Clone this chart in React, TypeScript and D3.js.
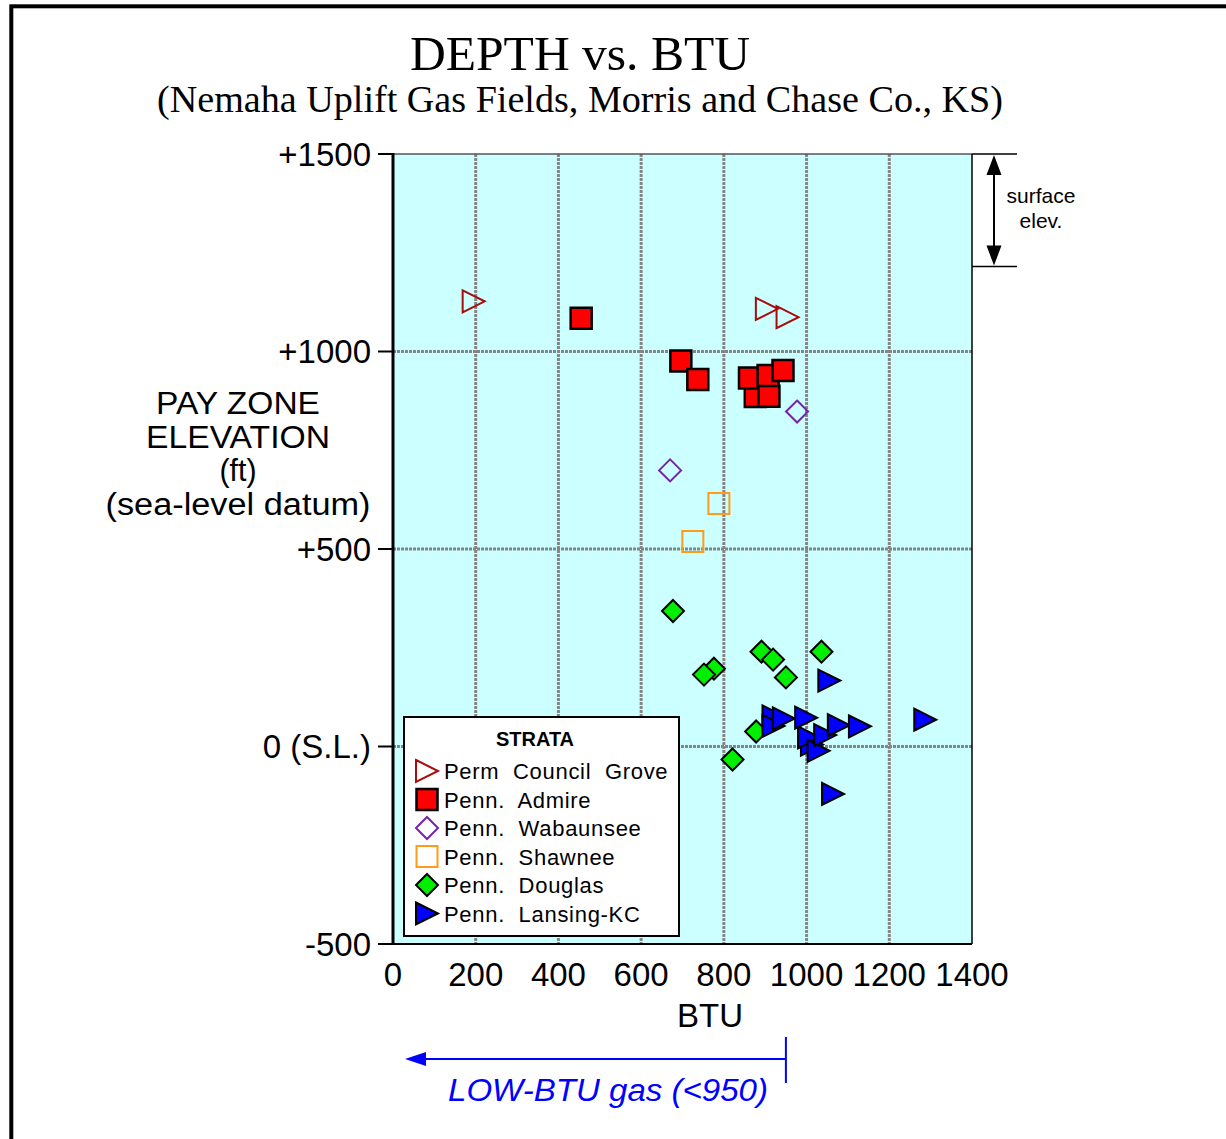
import React from "react";
import * as d3 from "d3";

// ---------- data ----------
const xTicks = [0, 200, 400, 600, 800, 1000, 1200, 1400];
const yTickValues = [1500, 1000, 500, 0, -500];
const yTickLabels = ["+1500", "+1000", "+500", "0 (S.L.)", "-500"];

const councilGroveBTU = [195, 904, 954];
const councilGroveElev = [1127, 1108, 1087];

const admireBTU = [455, 696, 737, 876, 862, 909, 907, 943];
const admireElev = [1084, 976, 929, 886, 933, 887, 939, 952];

const wabaunseeBTU = [977, 670];
const wabaunseeElev = [848, 699];

const shawneeBTU = [788, 725];
const shawneeElev = [615, 519];

const douglasBTU = [677, 776, 752, 891, 919, 950, 1036, 878, 821];
const douglasElev = [343, 197, 182, 240, 220, 175, 240, 38, -33];

const lansingBTU = [1055, 1287, 1064, 920, 920, 945, 1013, 1006, 999, 1029, 1045, 1078, 1129];
const lansingElev = [167, 68, -120, 76, 52, 71, 5, 23, 73, -11, 29, 54, 51];

const legendLabels = [
  "Perm  Council  Grove",
  "Penn.  Admire",
  "Penn.  Wabaunsee",
  "Penn.  Shawnee",
  "Penn.  Douglas",
  "Penn.  Lansing-KC",
];

const yTitleLines = ["PAY ZONE", "ELEVATION", "(ft)", "(sea-level datum)"];

const surfaceElevTop = 1500;
const surfaceElevBottom = 1215;
const lowBtuCutoff = 950;

// ---------- layout ----------
const W = 1226;
const H = 1139;
const PL = 393, PR = 972, PT = 154, PB = 944;
const SANS = "'Liberation Sans', Arial, Helvetica, sans-serif";
const SERIF = "'Liberation Serif', 'Times New Roman', serif";
const yTitleWidths = [164, 184, 37, 265];

const x = d3.scaleLinear().domain([0, 1400]).range([PL, PR]);
const y = d3.scaleLinear().domain([-500, 1500]).range([PB, PT]);

type Kind = "triOpen" | "square" | "diamondOpen" | "squareOpen" | "diamond" | "tri";

const styles: { kind: Kind; fill: string; stroke: string; sw: number }[] = [
  { kind: "triOpen", fill: "none", stroke: "#A80C0C", sw: 2 },
  { kind: "square", fill: "#FF0000", stroke: "#000000", sw: 2.5 },
  { kind: "diamondOpen", fill: "none", stroke: "#7424A8", sw: 2 },
  { kind: "squareOpen", fill: "none", stroke: "#FF9A1A", sw: 2 },
  { kind: "diamond", fill: "#00EE00", stroke: "#000000", sw: 2 },
  { kind: "tri", fill: "#0000FF", stroke: "#000000", sw: 2 },
];

function markerPath(kind: Kind): string {
  const s = 10.5;
  if (kind === "square" || kind === "squareOpen") {
    return `M${-s},${-s}H${s}V${s}H${-s}Z`;
  }
  if (kind === "diamond" || kind === "diamondOpen") {
    const d = 11;
    return `M0,${-d}L${d},0L0,${d}L${-d},0Z`;
  }
  const w = 11, h = 11;
  return `M${-w},${-h}L${w},0L${-w},${h}Z`;
}

function Marker({ cx, cy, idx }: { cx: number; cy: number; idx: number }) {
  const st = styles[idx];
  return (
    <path
      d={markerPath(st.kind)}
      transform={`translate(${cx},${cy})`}
      fill={st.fill}
      stroke={st.stroke}
      strokeWidth={st.sw}
      strokeLinejoin="miter"
    />
  );
}

const series = [
  { bt: councilGroveBTU, el: councilGroveElev },
  { bt: admireBTU, el: admireElev },
  { bt: wabaunseeBTU, el: wabaunseeElev },
  { bt: shawneeBTU, el: shawneeElev },
  { bt: douglasBTU, el: douglasElev },
  { bt: lansingBTU, el: lansingElev },
];

export default function App() {
  const gridX = xTicks.slice(1, -1);
  const gridY = [1000, 500, 0];
  const yTopArrow = y(surfaceElevTop);
  const yBotArrow = y(surfaceElevBottom);
  const arrowX = 994;
  const lowX = x(lowBtuCutoff);
  const lowTip = x(0) + 12;
  const lowY = 1059;

  const legX = 404, legY = 717, legW = 275, legH = 219;

  return (
    <div style={{ position: "absolute", left: 0, top: 0, width: W, height: H, overflow: "hidden" }}>
      <svg width={W} height={H} style={{ display: "block", background: "#fff" }}>
        {/* outer frame */}
        <rect x={11.3} y={6.3} width={W + 50} height={H + 50} fill="none" stroke="#000" strokeWidth={4} />

        {/* titles */}
        <text x={580} y={70} textAnchor="middle" fontFamily={SERIF} fontSize={49} fill="#000"
          textLength={340} lengthAdjust="spacingAndGlyphs">
          DEPTH vs. BTU
        </text>
        <text x={580} y={112} textAnchor="middle" fontFamily={SERIF} fontSize={37} fill="#000"
          textLength={846} lengthAdjust="spacingAndGlyphs">
          (Nemaha Uplift Gas Fields, Morris and Chase Co., KS)
        </text>

        {/* plot background */}
        <rect x={PL} y={PT} width={PR - PL} height={PB - PT} fill="#CCFFFF" />

        {/* grid */}
        {gridX.map((v) => (
          <line key={"gx" + v} x1={x(v)} x2={x(v)} y1={PT} y2={PB} stroke="#858585" strokeWidth={3}
            strokeDasharray="3 1" />
        ))}
        {gridY.map((v) => (
          <line key={"gy" + v} x1={PL} x2={PR} y1={y(v)} y2={y(v)} stroke="#858585" strokeWidth={3}
            strokeDasharray="3 1" />
        ))}
        <line x1={PL} x2={PR} y1={PT} y2={PT} stroke="#555" strokeWidth={1.5} />
        <line x1={PR} x2={PR} y1={PT} y2={PB} stroke="#000" strokeWidth={1.5} />

        {/* axes */}
        <line x1={PL} x2={PL} y1={PT - 1} y2={PB + 1} stroke="#000" strokeWidth={3} />
        <line x1={PL - 15} x2={PR} y1={PB} y2={PB} stroke="#000" strokeWidth={2} />
        {yTickValues.map((v) => (
          <line key={"yt" + v} x1={PL - 15} x2={PL} y1={y(v)} y2={y(v)} stroke="#000" strokeWidth={2} />
        ))}
        {yTickValues.map((v, i) => (
          <text key={"yl" + v} x={371} y={y(v) + 11.5} textAnchor="end" fontFamily={SANS} fontSize={33} fill="#000">
            {yTickLabels[i]}
          </text>
        ))}
        {xTicks.map((v) => (
          <text key={"xl" + v} x={x(v)} y={986} textAnchor="middle" fontFamily={SANS} fontSize={33} fill="#000">
            {v}
          </text>
        ))}
        <text x={710} y={1027} textAnchor="middle" fontFamily={SANS} fontSize={33} fill="#000">BTU</text>

        {/* y axis title */}
        {yTitleLines.map((t, i) => (
          <text key={t} x={238} y={414 + i * 33.5} textAnchor="middle" fontFamily={SANS} fontSize={31} fill="#000"
            textLength={yTitleWidths[i]} lengthAdjust="spacingAndGlyphs">
            {t}
          </text>
        ))}

        {/* data */}
        {series.map((s, si) =>
          s.bt.map((b, j) => <Marker key={`m${si}-${j}`} cx={x(b)} cy={y(s.el[j])} idx={si} />)
        )}

        {/* legend */}
        <rect x={legX} y={legY} width={legW} height={legH} fill="#fff" stroke="#000" strokeWidth={2} />
        <text x={535} y={746} textAnchor="middle" fontFamily={SANS} fontWeight="bold" fontSize={20} fill="#000">
          STRATA
        </text>
        {legendLabels.map((lab, i) => {
          const cy = 771 + i * 28.5;
          return (
            <g key={lab}>
              <Marker cx={427} cy={cy} idx={i} />
              <text x={444} y={cy + 8} fontFamily={SANS} fontSize={22} letterSpacing={0.7} fill="#000"
                style={{ whiteSpace: "pre" }}>
                {lab}
              </text>
            </g>
          );
        })}

        {/* surface elevation annotation */}
        <line x1={PR} x2={1017} y1={yTopArrow} y2={yTopArrow} stroke="#000" strokeWidth={1.5} />
        <line x1={PR} x2={1017} y1={yBotArrow} y2={yBotArrow} stroke="#000" strokeWidth={1.5} />
        <line x1={arrowX} x2={arrowX} y1={yTopArrow + 15} y2={yBotArrow - 15} stroke="#000" strokeWidth={2} />
        <path d={`M${arrowX},${yTopArrow + 1}L${arrowX - 7.5},${yTopArrow + 21}L${arrowX + 7.5},${yTopArrow + 21}Z`} fill="#000" />
        <path d={`M${arrowX},${yBotArrow - 1}L${arrowX - 7.5},${yBotArrow - 21}L${arrowX + 7.5},${yBotArrow - 21}Z`} fill="#000" />
        <text x={1041} y={203} textAnchor="middle" fontFamily={SANS} fontSize={21} fill="#000">surface</text>
        <text x={1041} y={228} textAnchor="middle" fontFamily={SANS} fontSize={21} fill="#000">elev.</text>

        {/* low BTU annotation */}
        <line x1={lowTip + 15} x2={lowX} y1={lowY} y2={lowY} stroke="#0000FF" strokeWidth={2} />
        <path d={`M${lowTip},${lowY}L${lowTip + 21},${lowY - 7}L${lowTip + 21},${lowY + 7}Z`} fill="#0000FF" />
        <line x1={lowX} x2={lowX} y1={1037} y2={1083} stroke="#0000FF" strokeWidth={2} />
        <text x={768} y={1101} textAnchor="end" fontFamily={SANS} fontStyle="italic" fontSize={31} fill="#0000FF"
          textLength={320} lengthAdjust="spacingAndGlyphs">
          LOW-BTU gas (&lt;950)
        </text>
      </svg>
    </div>
  );
}
